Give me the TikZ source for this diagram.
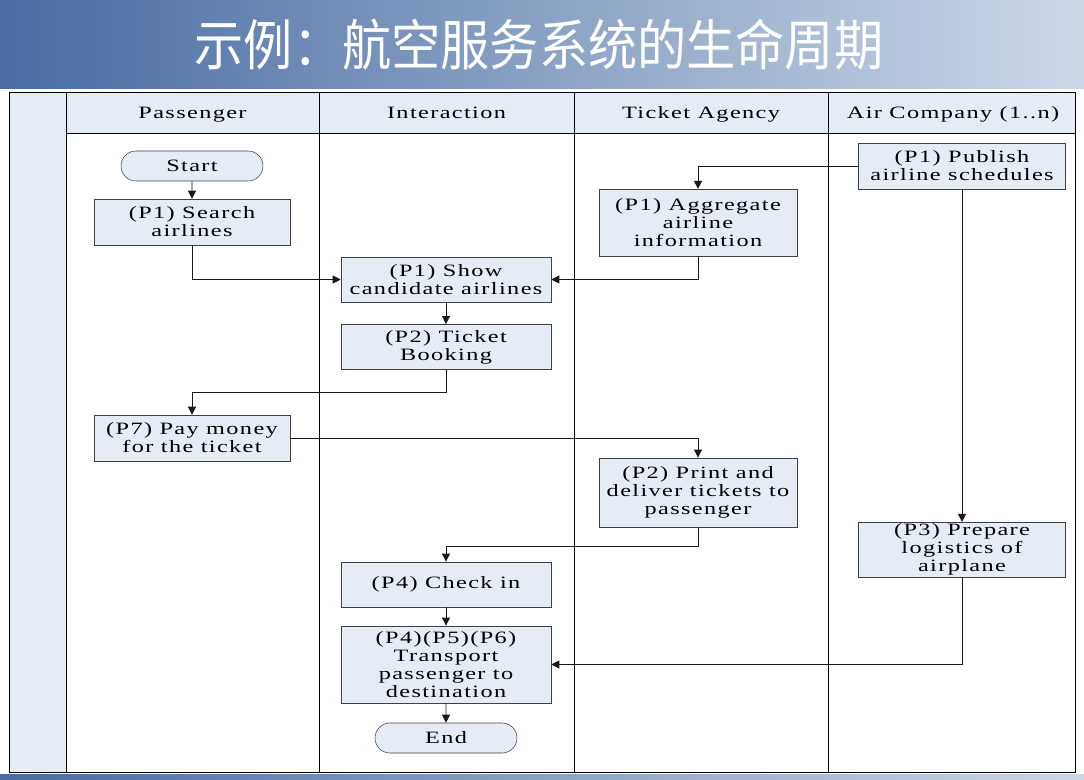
\documentclass[tikz,border=0pt]{standalone}
\usepackage{fontspec}
\setmainfont[FakeStretch=1.4,LetterSpace=8]{Liberation Serif}
\newfontfamily\cjk[FakeStretch=0.9]{Noto Sans CJK SC}
\usetikzlibrary{arrows.meta,shapes.misc}

\definecolor{lanefill}{RGB}{230,236,246}
\definecolor{bannerdark}{RGB}{72,108,163}
\definecolor{bannerlight}{RGB}{204,215,230}
\newcommand{\boxfont}{\fontsize{13}{13.5}\selectfont}
\newcommand{\titlefont}{\cjk\fontsize{41}{44}\selectfont}

\begin{document}
\begin{tikzpicture}[x=0.75pt,y=-0.75pt,
    lane/.style={draw=black,line width=0.7pt},
    head/.style={font=\boxfont,text height=1.6ex,text depth=0.4ex},
    box/.style={draw=black!75,fill=lanefill,align=center,inner sep=0pt,font=\boxfont},
    term/.style={box,rounded rectangle,minimum width=106.5pt,minimum height=22.5pt},
    flow/.style={draw=black!90,line width=0.7pt,-{Triangle[length=6pt,width=6pt]}}]
    \useasboundingbox (0,0) rectangle (1084,780);

    % Banner
    \shade[left color=bannerdark,right color=bannerlight] (0,0) rectangle (1084,89);
    \node[text=white,font=\titlefont] (title) at (539,45) {示例：航空服务系统的生命周期};
    \shade[left color=bannerdark,right color=bannerlight] (0,774) rectangle (1084,780);

    % Lanes
    \fill[lanefill] (9,92) rectangle (66,772);
    \fill[lanefill] (66,92) rectangle (1075,133);
    \draw[lane] (9,92) rectangle (1075,772);
    \foreach \x in {66,319,574,828}
        \draw[lane] (\x,92) -- (\x,772);
    \draw[lane] (66,133) -- (1075,133);
    \node[head] (hpass) at (192.5,114.5) {Passenger};
    \node[head] (hinter) at (446.5,114.5) {Interaction};
    \node[head] (hagency) at (701,114.5) {Ticket Agency};
    \node[head] (hair) at (953,114.5) {Air Company (1..n)};

    % Passenger
    \node[term] (start) at (192,166) {Start};
    \node[box,minimum width=147pt,minimum height=34.5pt] (search) at (192,222) {(P1) Search\\airlines};
    \node[box,minimum width=147pt,minimum height=34.5pt] (pay) at (192,438) {(P7) Pay money\\for the ticket};

    % Interaction
    \node[box,minimum width=157.5pt,minimum height=34pt] (show) at (446,279.5) {(P1) Show\\candidate airlines};
    \node[box,minimum width=157.5pt,minimum height=34pt] (booking) at (446,347) {(P2) Ticket\\Booking};
    \node[box,minimum width=157.5pt,minimum height=34pt] (checkin) at (446,584.5) {(P4) Check in};
    \node[box,minimum width=157.5pt,minimum height=58pt] (transport) at (446,664.5) {(P4)(P5)(P6)\\Transport\\passenger to\\destination};
    \node[term] (end) at (446,738) {End};

    % Ticket agency
    \node[box,minimum width=148.5pt,minimum height=50pt] (aggregate) at (698,222.5) {(P1) Aggregate\\airline\\information};
    \node[box,minimum width=148.5pt,minimum height=52pt] (print) at (698,492.5) {(P2) Print and\\deliver tickets to\\passenger};

    % Air company
    \node[box,minimum width=155pt,minimum height=34.5pt] (publish) at (962,166) {(P1) Publish\\airline schedules};
    \node[box,minimum width=155pt,minimum height=41pt] (prepare) at (962,549.5) {(P3) Prepare\\logistics of\\airplane};

    % Flow
    \draw[flow] (start) -- (search);
    \draw[flow] (search.south) |- (show.west);
    \draw[flow] (publish.west) -| (aggregate.north);
    \draw[flow] (aggregate.south) |- (show.east);
    \draw[flow] (show) -- (booking);
    \draw[flow] (booking.south) -- ++(0,23) -| (pay.north);
    \draw[flow] (pay.east) -| (print.north);
    \draw[flow] (publish.south) -- (prepare.north);
    \draw[flow] (print.south) -- ++(0,19) -| (checkin.north);
    \draw[flow] (checkin) -- (transport);
    \draw[flow] (prepare.south) |- (transport.east);
    \draw[flow] (transport) -- (end);
\end{tikzpicture}
\end{document}
